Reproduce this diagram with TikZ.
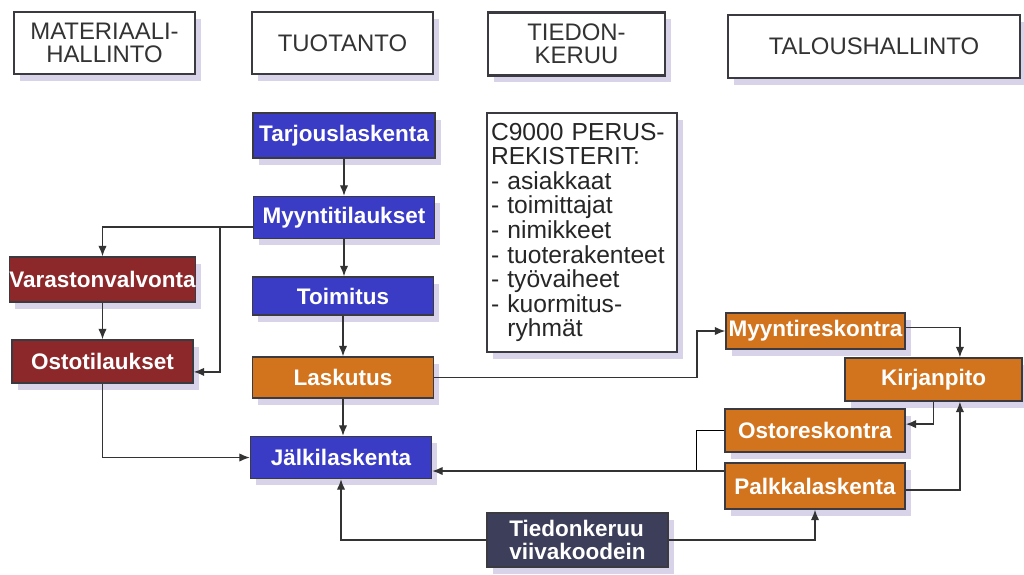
\documentclass[tikz,border=0pt]{standalone}
\usepackage{fontspec}
\setmainfont{Liberation Sans}
\usetikzlibrary{arrows.meta,shadows}

\definecolor{boxblue}{RGB}{58,60,198}
\definecolor{boxred}{RGB}{140,40,42}
\definecolor{boxorange}{RGB}{210,116,30}
\definecolor{boxslate}{RGB}{60,62,90}
\definecolor{edgegray}{RGB}{58,58,64}
\definecolor{lilac}{RGB}{200,192,222}

\begin{document}
\begin{tikzpicture}[x=0.025cm, y=-0.025cm,
    every node/.style={inner sep=0pt, align=center},
    lilacshadow/.style={drop shadow={shadow xshift=0.14cm, shadow yshift=-0.17cm, fill=lilac, opacity=0.7}},
    sz/.style 2 args={minimum width=#1*0.025cm, minimum height=#2*0.025cm},
    headbox/.style={draw=edgegray, line width=1.5pt, fill=white, lilacshadow, text=black!80,
        font=\fontsize{17}{16}\selectfont, sz={181}{62}},
    funcbox/.style={draw=edgegray, line width=1.1pt, lilacshadow, text=white,
        font=\fontsize{16}{16}\selectfont\bfseries, sz={181}{42}},
    bluebox/.style={funcbox, fill=boxblue},
    redbox/.style={funcbox, fill=boxred},
    orangebox/.style={funcbox, fill=boxorange, sz={180}{43}},
    arr/.style={-{Latex[length=2.6mm,width=2.1mm]}, line width=0.9pt, draw=black!80}]
\useasboundingbox (0,0) rectangle (1024,574);

% Headers
\node[headbox] (hmat) at (104.5,43) {MATERIAALI-\\HALLINTO};
\node[headbox] (htuo) at (342.5,43) {TUOTANTO};
\node[headbox, sz={177}{63}] (htie) at (576.5,44) {TIEDON-\\KERUU};
\node[headbox, sz={292}{63}] (htal) at (874,46.5) {TALOUSHALLINTO};

% Production column
\node[bluebox, sz={182}{45}] (tarj) at (344,135.5) {Tarjouslaskenta};
\node[bluebox] (myyn) at (344,217.5) {Myyntitilaukset};
\node[bluebox, sz={181}{38}] (toim) at (343,296) {Toimitus};
\node[orangebox, sz={181}{41}] (lask) at (343,377.5) {Laskutus};
\node[bluebox] (jalk) at (341,457.5) {Jälkilaskenta};

% Materials column
\node[redbox, sz={181}{45}] (vara) at (102.5,279.5) {Varastonvalvonta};
\node[redbox, sz={181}{43}] (osto) at (102.5,361.5) {Ostotilaukset};

% Registers and data collection
\node[draw=edgegray, line width=1.5pt, fill=white, lilacshadow, sz={190}{239}, text=black!85,
    align=left, text width=182*0.025cm, font=\fontsize{17.5}{17.5}\selectfont] (reg) at (582,232.5)
    {C9000 PERUS-\\REKISTERIT:\\- asiakkaat\\- toimittajat\\- nimikkeet\\- tuoterakenteet\\- työvaiheet\\- kuormitus-\\\hphantom{- }ryhmät};
\node[funcbox, fill=boxslate, align=left, sz={181}{54}] (tied) at (577.5,540) {Tiedonkeruu\\viivakoodein};

% Finance column
\node[orangebox, sz={179}{36}] (myre) at (815.5,331) {Myyntireskontra};
\node[orangebox, sz={177}{43}] (kirj) at (933.5,379.5) {Kirjanpito};
\node[orangebox] (ostr) at (815,430.5) {Ostoreskontra};
\node[orangebox, sz={180}{46}] (palk) at (815,486) {Palkkalaskenta};

\coordinate (split) at (220,227);
\coordinate (turn) at (697,0);
\coordinate (join) at (696,471);

% Connectors
\draw[arr] (tarj) -- (tarj |- myyn.north);
\draw[arr] (myyn) -- (myyn |- toim.north);
\draw[arr] (toim) -- (toim |- lask.north);
\draw[arr] (lask) -- (lask |- jalk.north);
\draw[arr] ([yshift=-0.24cm]myyn.west) -| (vara.north);
\draw[arr] (split) |- ([yshift=-0.26cm]osto.east);
\draw[arr] (vara) -- (osto);
\draw[arr] (osto.south) |- (jalk.west);
\draw[arr] (lask.east) -| (turn |- myre.west) -- (myre.west);
\draw[arr] ([yshift=0.08cm]myre.east) -| ([xshift=0.66cm]kirj.north);
\draw[arr] (kirj.south) |- ([yshift=0.16cm]ostr.east);
\draw[arr] ([yshift=-0.1cm]palk.east) -| ([xshift=0.66cm]kirj.south);
\draw (ostr.west) -| (join);
\draw[arr] (palk.west |- join) -- (jalk.east |- join);
\draw[arr] (tied.west) -| (jalk.south);
\draw[arr] (tied.east) -| (palk.south);
\end{tikzpicture}
\end{document}
